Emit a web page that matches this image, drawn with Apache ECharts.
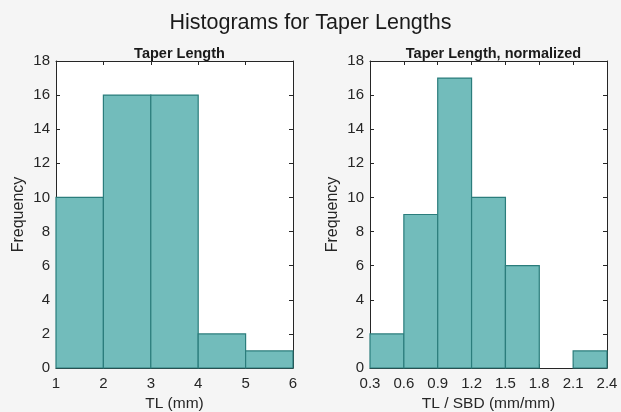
<!DOCTYPE html>
<html><head><meta charset="utf-8">
<script src="https://cdn.jsdelivr.net/npm/echarts@6/dist/echarts.min.js"></script>
<style>html,body{margin:0;padding:0;background:#f5f5f5}#c{width:621px;height:412px}</style>
</head><body><div id="c"></div>
<script>
// Left histogram: bin edges and counts
const leftEdges = [1, 2, 3, 4, 5, 6];
const leftCounts = [10, 16, 16, 2, 1];
// Right histogram: bin edges and counts
const rightEdges = [0.3, 0.6, 0.9, 1.2, 1.5, 1.8, 2.1, 2.4];
const rightCounts = [2, 9, 17, 10, 6, 0, 1];
const yTicks = [0, 2, 4, 6, 8, 10, 12, 14, 16, 18];

function toData(edges, counts) {
  return counts.map((c, i) => [edges[i], edges[i + 1], c]);
}
const FONT = 'Liberation Sans, Arial, sans-serif';
const TXT = '#262626';
const AX = '#262626';

function renderItem(params, api) {
  const p0 = api.coord([api.value(0), api.value(2)]);
  const p1 = api.coord([api.value(1), 0]);
  if (api.value(2) === 0) return null;
  return {
    type: 'rect',
    shape: { x: p0[0], y: p0[1], width: p1[0] - p0[0], height: p1[1] - p0[1] },
    style: { fill: '#72bcbb', stroke: '#2b7d7c', lineWidth: 1.2 }
  };
}

function xAxes(grid, edges, step, fmt, name) {
  const base = {
    gridIndex: grid, type: 'value', min: edges[0], max: edges[edges.length - 1], interval: step,
    axisLine: { show: true, onZero: false, lineStyle: { color: AX, width: 1 } },
    axisTick: { show: true, inside: true, length: 4, lineStyle: { color: AX } },
    splitLine: { show: false }
  };
  return [
    Object.assign({}, base, {
      position: 'bottom',
      name: name, nameLocation: 'middle', nameGap: 27,
      nameTextStyle: { fontFamily: FONT, fontSize: 15.5, color: TXT },
      axisLabel: { fontFamily: FONT, fontSize: 15, color: TXT, margin: 8, formatter: fmt }
    }),
    Object.assign({}, base, { position: 'top', axisLabel: { show: false } })
  ];
}
function yAxes(grid) {
  const base = {
    gridIndex: grid, type: 'value', min: yTicks[0], max: yTicks[yTicks.length - 1], interval: 2,
    axisLine: { show: true, onZero: false, lineStyle: { color: AX, width: 1 } },
    axisTick: { show: true, inside: true, length: 4, lineStyle: { color: AX } },
    splitLine: { show: false }
  };
  return [
    Object.assign({}, base, {
      position: 'left',
      name: 'Frequency', nameLocation: 'middle', nameGap: 29, nameRotate: 90,
      nameTextStyle: { fontFamily: FONT, fontSize: 16, color: TXT },
      axisLabel: { fontFamily: FONT, fontSize: 15, color: TXT, margin: 6 }
    }),
    Object.assign({}, base, { position: 'right', axisLabel: { show: false } })
  ];
}

const chart = echarts.init(document.getElementById('c'), null, { renderer: 'canvas' });
chart.setOption({
  backgroundColor: '#f5f5f5',
  animation: false,
  title: [
    { text: 'Histograms for Taper Lengths', left: 'center', top: 7,
      textStyle: { fontFamily: FONT, fontSize: 21.5, fontWeight: 'normal', color: '#1a1a1a' } },
    { text: 'Taper Length', left: 174.5, textAlign: 'center', top: 41,
      textStyle: { fontFamily: FONT, fontSize: 14.5, fontWeight: 'bold', color: '#1a1a1a' } },
    { text: 'Taper Length, normalized', left: 488.5, textAlign: 'center', top: 41,
      textStyle: { fontFamily: FONT, fontSize: 14.5, fontWeight: 'bold', color: '#1a1a1a' } }
  ],
  grid: [
    { left: 56, right: 328, top: 61, bottom: 44, show: true, backgroundColor: '#ffffff', borderWidth: 0, outerBoundsMode: 'none', containLabel: false },
    { left: 370, right: 14, top: 61, bottom: 44, show: true, backgroundColor: '#ffffff', borderWidth: 0, outerBoundsMode: 'none', containLabel: false }
  ],
  xAxis: [
    ...xAxes(0, leftEdges, 1, v => String(Math.round(v)), 'TL (mm)'),
    ...xAxes(1, rightEdges, 0.3, v => v.toFixed(1), 'TL / SBD (mm/mm)')
  ],
  yAxis: [...yAxes(0), ...yAxes(1)],
  series: [
    { type: 'custom', xAxisIndex: 0, yAxisIndex: 0, renderItem, data: toData(leftEdges, leftCounts), encode: { x: [0, 1], y: 2 } },
    { type: 'custom', xAxisIndex: 2, yAxisIndex: 2, renderItem, data: toData(rightEdges, rightCounts), encode: { x: [0, 1], y: 2 } }
  ]
});
</script></body></html>
